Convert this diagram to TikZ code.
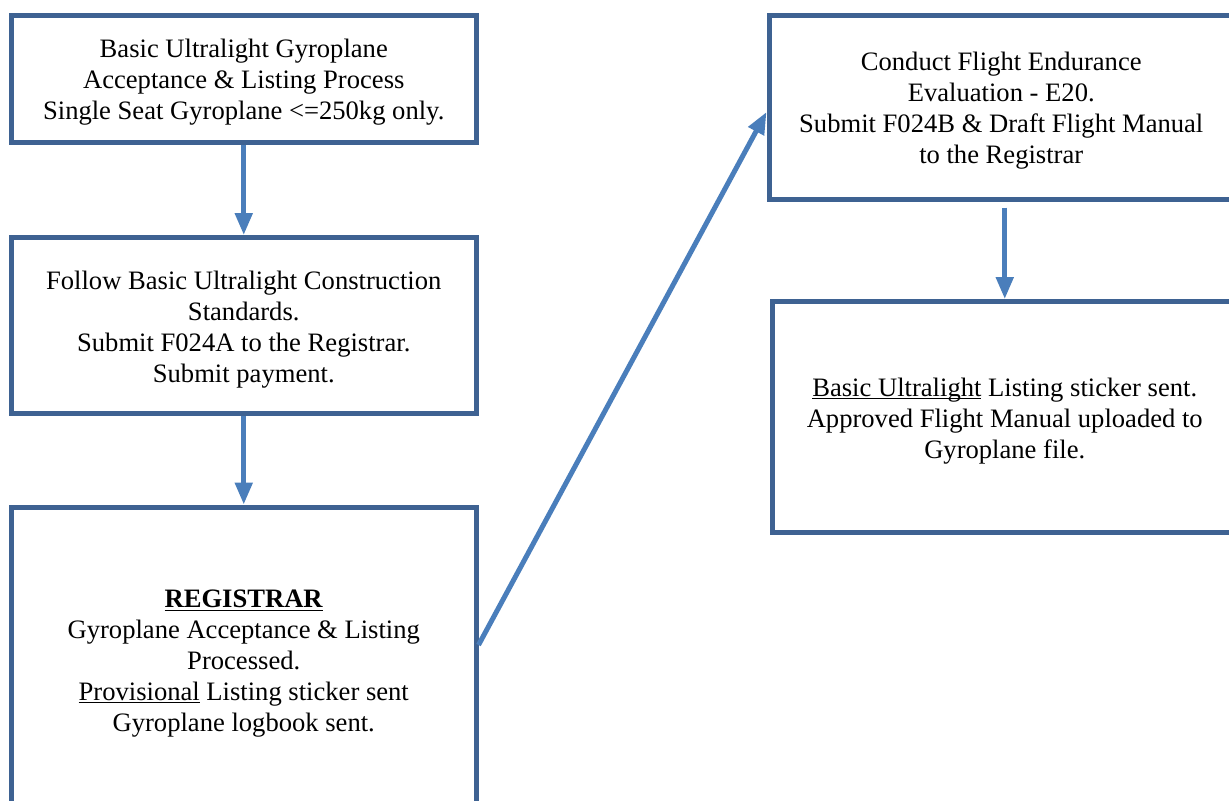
\documentclass[tikz,border=0pt]{standalone}
\usepackage{fontspec}
\setmainfont{Liberation Serif}
\usetikzlibrary{arrows.meta}

\definecolor{boxblue}{RGB}{62,98,146}
\definecolor{arrowblue}{RGB}{74,126,187}
\newcommand{\topstrut}{\rule{0pt}{12.9pt}}

\begin{document}
\begin{tikzpicture}[x=0.5pt, y=-0.5pt,
        box_style/.style={rectangle,draw=boxblue,line width=2.5pt,inner sep=0pt,align=center,font=\fontsize{13.3}{15.5}\selectfont,minimum width=232.25pt},
        arrow_style/.style={draw=arrowblue,line width=2.5pt,-{Triangle[length=11pt,width=8.5pt]}}]
        \useasboundingbox (0,0) rectangle (1229,800);

        \node [box_style,minimum height=63.75pt](box1) at (243.75,78.75) {\topstrut Basic Ultralight Gyroplane\\ Acceptance \& Listing Process\\ Single Seat Gyroplane <=250kg only.};
        \node [box_style,minimum height=88pt](box2) at (243.75,325.5) {\topstrut Follow Basic Ultralight Construction\\ Standards.\\ Submit F024A to the Registrar.\\ Submit payment.};
        \node [box_style,minimum height=152pt](box3) at (243.75,659) {\topstrut\underline{\textbf{REGISTRAR}}\\ Gyroplane Acceptance \& Listing\\ Processed.\\ \underline{\smash{Provisional}} Listing sticker sent\\ Gyroplane logbook sent.};
        \node [box_style,minimum height=92pt](box4) at (1001.25,107) {\topstrut Conduct Flight Endurance\\ Evaluation - E20.\\ Submit F024B \& Draft Flight Manual\\ to the Registrar};
        \node [box_style,minimum height=115.5pt](box5) at (1004.75,417) {\topstrut\underline{\smash{Basic Ultralight}} Listing sticker sent.\\ Approved Flight Manual uploaded to\\ Gyroplane file.};

        \draw [arrow_style] (box1) -- (box2);
        \draw [arrow_style] (box2) -- (box3);
        \draw [arrow_style] ([yshift=7pt]box3.east) -- ([yshift=-2.5pt]box4.west);
        \draw [arrow_style,shorten <=3pt] (box4.south -| box5.north) -- (box5.north);
\end{tikzpicture}
\end{document}
